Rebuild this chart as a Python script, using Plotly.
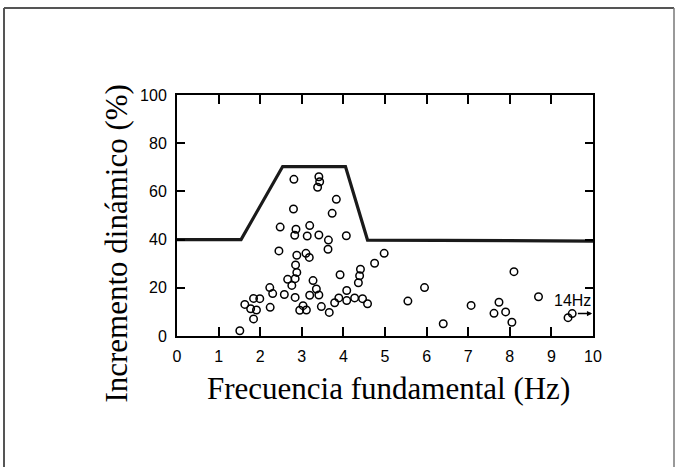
import plotly.graph_objects as go

# Data
freq = [1.51,1.63,1.77,1.84,1.84,1.91,1.99,2.23,2.30,2.24,
        2.48,2.45,2.58,2.66,2.76,2.84,2.88,2.85,2.84,2.81,
        2.80,2.86,2.83,2.88,2.95,3.03,3.11,3.13,3.10,3.18,
        3.19,3.19,3.27,3.35,3.41,3.47,3.41,3.41,3.43,3.38,
        3.64,3.63,3.66,3.73,3.83,3.79,3.89,3.92,4.07,4.08,
        4.08,4.27,4.36,4.39,4.41,4.46,4.58,4.75,4.98,5.55,
        5.95,6.40,7.07,7.62,7.74,7.90,8.05,8.10,8.69,9.40,
        9.50]
incr = [2.2,13.1,11.3,7.1,15.6,10.8,15.5,20.1,17.6,11.9,
        45.2,35.3,17.2,23.5,21.0,23.8,26.4,29.5,16.0,65.0,
        52.7,44.3,41.8,33.5,10.7,12.6,10.8,41.5,34.3,32.6,
        45.8,16.9,23.0,19.5,17.0,12.2,41.9,66.1,64.0,61.7,
        39.8,36.0,9.8,50.9,56.7,13.8,15.8,25.4,41.6,18.9,
        14.7,15.8,22.1,25.0,27.7,15.5,13.4,30.2,34.3,14.5,
        20.1,5.1,12.7,9.4,14.0,10.0,5.7,26.7,16.3,7.6,
        9.3]

env_x = [0, 1.54, 2.54, 4.05, 4.58, 10]
env_y = [40, 40, 70.3, 70.3, 39.8, 39.4]

x_ticks = list(range(0, 11))
y_ticks = [0, 20, 40, 60, 80, 100]

arrow_start = (9.60, 9.3)
arrow_end = (9.98, 9.3)
label_14 = "14Hz"

fig = go.Figure()
fig.add_trace(go.Scatter(x=env_x, y=env_y, mode="lines",
                         line=dict(color="#1a1a1a", width=3.2),
                         hoverinfo="skip", showlegend=False))
fig.add_trace(go.Scatter(x=freq, y=incr, mode="markers",
                         marker=dict(symbol="circle-open", size=7.5,
                                     color="black", line=dict(width=1.5, color="black")),
                         showlegend=False))

tickfont = dict(family="Liberation Sans, Arial, sans-serif", size=16, color="black")
fig.update_xaxes(range=[0, 10], tickvals=x_ticks, ticks="inside", ticklen=9,
                 tickwidth=1.5, tickcolor="black", mirror="ticks", showline=True,
                 linecolor="black", linewidth=2, showgrid=False, zeroline=False,
                 tickfont=tickfont, ticklabelstandoff=5)
fig.update_yaxes(range=[0, 100], tickvals=y_ticks, ticks="inside", ticklen=8,
                 tickwidth=1.5, tickcolor="black", mirror="ticks", showline=True,
                 linecolor="black", linewidth=2, showgrid=False, zeroline=False,
                 tickfont=tickfont, ticklabelstandoff=5)

titlefont = dict(family="Liberation Serif, Times New Roman, serif", size=31, color="black")
fig.add_annotation(text="Frecuencia fundamental (Hz)", xref="paper", yref="paper",
                   x=0.508, y=-0.218, showarrow=False, font=titlefont,
                   xanchor="center", yanchor="middle")
fig.add_annotation(text="Incremento dinámico (%)", xref="paper", yref="paper",
                   x=-0.145, y=0.382, showarrow=False, font=titlefont, textangle=-90,
                   xanchor="center", yanchor="middle")
fig.add_annotation(text=label_14, x=9.5, y=14.8, xref="x", yref="y", showarrow=False,
                   font=tickfont, xanchor="center", yanchor="middle")
fig.add_annotation(x=arrow_end[0], y=arrow_end[1], ax=arrow_start[0], ay=arrow_start[1],
                   xref="x", yref="y", axref="x", ayref="y", text="", showarrow=True,
                   arrowhead=2, arrowsize=0.7, arrowwidth=1.5, arrowcolor="black")

# outer frame (paper coordinates relative to the plot area)
W, H = 679, 467
L, R, T, B = 177, 86, 95, 131
pw, ph = W - L - R, H - T - B
def px(x):
    return (x - L) / pw
def py(y):
    return (H - B - y) / ph
frame = dict(color="#555555", width=2)
fig.add_shape(type="line", xref="paper", yref="paper", x0=px(4), x1=px(4), y0=py(8), y1=py(470), line=frame)
fig.add_shape(type="line", xref="paper", yref="paper", x0=px(4), x1=px(674), y0=py(8), y1=py(8), line=frame)
fig.add_shape(type="line", xref="paper", yref="paper", x0=px(674), x1=px(674), y0=py(8), y1=py(470), line=dict(color="#777777", width=1.5))

fig.update_layout(width=W, height=H, margin=dict(l=L, r=R, t=T, b=B),
                  paper_bgcolor="white", plot_bgcolor="white", showlegend=False)

fig.write_html("out.html")
